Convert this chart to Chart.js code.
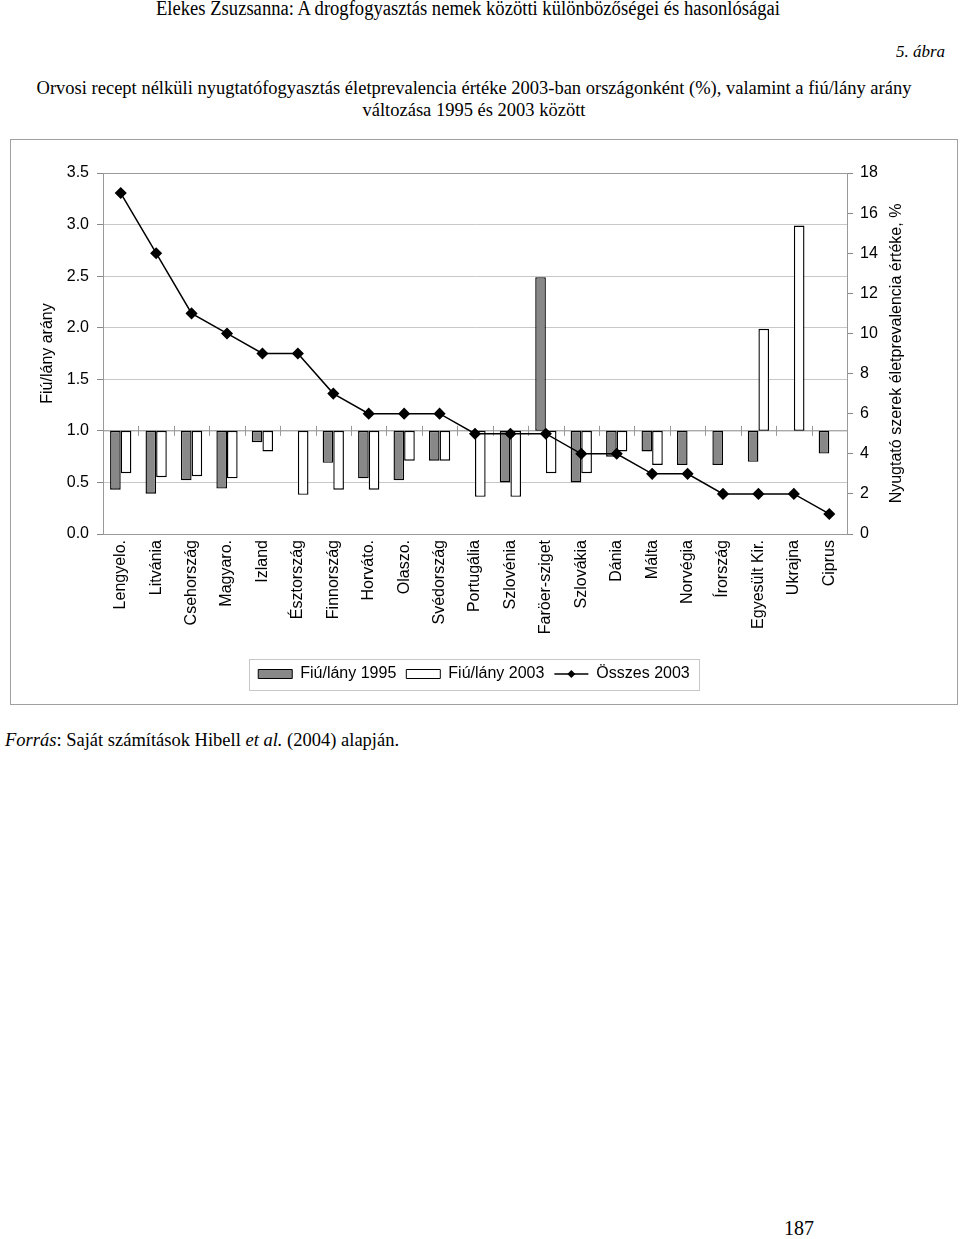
<!DOCTYPE html>
<html>
<head>
<meta charset="utf-8">
<script src="https://cdn.jsdelivr.net/npm/chart.js@4.4.0/dist/chart.umd.min.js"></script>
<style>
  body { margin: 0; background: #fff; width: 960px; height: 1239px; position: relative; overflow: hidden; }
  .serif { font-family: 'Liberation Serif', 'Times New Roman', serif; color: #000; position: absolute; white-space: nowrap; }
  #header { left: 0; width: 936px; top: -3px; font-size: 20px; line-height: 22px; text-align: center; transform: scaleX(0.93); transform-origin: 468px 0; }
  #abra { right: 15px; top: 42px; font-size: 17px; line-height: 20px; font-style: italic; }
  #title { left: 0; width: 948px; top: 77px; font-size: 18.5px; line-height: 22px; text-align: center; }
  #chartBox { position: absolute; left: 10px; top: 139px; width: 948px; height: 566px; border: 1px solid #a0a0a0; box-sizing: border-box; }
  #forras { left: 5px; top: 730px; font-size: 18.5px; line-height: 20px; }
  #page { left: 784px; top: 1217px; font-size: 20px; line-height: 22px; }
</style>
</head>
<body>
<div id="header" class="serif">Elekes Zsuzsanna: A drogfogyasztás nemek közötti különbözőségei és hasonlóságai</div>
<div id="abra" class="serif">5. ábra</div>
<div id="title" class="serif">Orvosi recept nélküli nyugtatófogyasztás életprevalencia értéke 2003-ban országonként (%), valamint a fiú/lány arány<br>változása 1995 és 2003 között</div>
<div id="chartBox"><canvas id="chart" width="946" height="564"></canvas></div>
<div id="forras" class="serif"><i>Forrás</i>: Saját számítások Hibell <i>et al.</i> (2004) alapján.</div>
<div id="page" class="serif">187</div>

<script>
const orszagok = ['Lengyelo.', 'Litvánia', 'Csehország', 'Magyaro.', 'Izland', 'Észtország', 'Finnország', 'Horváto.', 'Olaszo.', 'Svédország', 'Portugália', 'Szlovénia', 'Faröer-sziget', 'Szlovákia', 'Dánia', 'Málta', 'Norvégia', 'Írország', 'Egyesült Kir.', 'Ukrajna', 'Ciprus'];
const arany1995 = [0.43, 0.39, 0.52, 0.44, 0.89, null, 0.69, 0.54, 0.52, 0.71, null, 0.50, 2.49, 0.50, 0.75, 0.80, 0.67, 0.67, 0.70, null, 0.78];
const arany2003 = [0.59, 0.55, 0.56, 0.54, 0.80, 0.38, 0.43, 0.43, 0.71, 0.71, 0.36, 0.36, 0.59, 0.59, 0.80, 0.67, null, null, 1.99, 2.99, null];
const osszes2003 = [17, 14, 11, 10, 9, 9, 7, 6, 6, 6, 5, 5, 5, 4, 4, 3, 3, 2, 2, 2, 1];
const balTengely = [0, 3.5, 0.5];   // min, max, lépés
const jobbTengely = [0, 18, 2];
const ALAP = 1; // a kategória tengely 1.0-nál metszi

Chart.defaults.font.family = "'Liberation Sans', Arial, sans-serif";
Chart.defaults.font.size = 16;
Chart.defaults.color = '#000';

// lebegő oszlopok 1.0-tól
const lebego = arr => arr.map(v => v == null ? null : [ALAP, v]);

// keret, 1.0-s tengely osztásai, jobb tengely címe, jelmagyarázat
const extrak = {
  id: 'extrak',
  beforeDatasetsDraw(chart) {
    const { ctx, chartArea: a, scales } = chart;
    const x = scales.x, y = scales.y;
    const y1 = y.getPixelForValue(ALAP);
    ctx.save();
    ctx.strokeStyle = '#999';
    ctx.lineWidth = 1;
    ctx.beginPath();
    ctx.moveTo(a.left, y1); ctx.lineTo(a.right, y1);
    for (let i = 0; i <= orszagok.length; i++) {
      let px;
      if (i === 0) px = a.left;
      else if (i === orszagok.length) px = a.right;
      else px = (x.getPixelForTick(i - 1) + x.getPixelForTick(i)) / 2;
      ctx.moveTo(Math.round(px) + 0.5, y1 - 5);
      ctx.lineTo(Math.round(px) + 0.5, y1 + 5);
    }
    ctx.stroke();
    ctx.strokeStyle = '#999';
    ctx.strokeRect(a.left + 0.5, a.top + 0.5, a.right - a.left, a.bottom - a.top);
    ctx.restore();
  },
  afterDraw(chart) {
    const { ctx, chartArea: a, scales } = chart;
    ctx.save();
    ctx.fillStyle = '#000';
    ctx.font = "16px 'Liberation Sans', Arial, sans-serif";
    ctx.textAlign = 'center';
    ctx.textBaseline = 'middle';
    ctx.translate(scales.y1.left + 50, (a.top + a.bottom) / 2);
    ctx.rotate(-Math.PI / 2);
    ctx.fillText('Nyugtató szerek életprevalencia értéke, %', 0, 0);
    ctx.restore();

    const lg = chart.legend;
    const boxes = lg.legendHitBoxes;
    if (!boxes || !boxes.length) return;
    const bw = lg.options.labels.boxWidth;
    // vonal + rombusz a harmadik elemhez
    const hb = boxes[2];
    const cy = hb.top + hb.height / 2;
    ctx.save();
    ctx.strokeStyle = '#000';
    ctx.fillStyle = '#000';
    ctx.lineWidth = 1.5;
    ctx.beginPath();
    ctx.moveTo(hb.left, cy); ctx.lineTo(hb.left + bw, cy);
    ctx.stroke();
    const cx = hb.left + bw / 2, r = 4;
    ctx.beginPath();
    ctx.moveTo(cx, cy - r); ctx.lineTo(cx + r, cy); ctx.lineTo(cx, cy + r); ctx.lineTo(cx - r, cy);
    ctx.closePath(); ctx.fill();
    // keret
    let l = Infinity, rr = -Infinity, t = Infinity, b = -Infinity;
    boxes.forEach(h => {
      l = Math.min(l, h.left); rr = Math.max(rr, h.left + h.width);
      t = Math.min(t, h.top); b = Math.max(b, h.top + h.height);
    });
    ctx.strokeStyle = '#c8c8c8';
    ctx.lineWidth = 1;
    ctx.strokeRect(Math.round(l - 9) + 0.5, Math.round(t - 7) + 0.5, Math.round(rr - l + 18), Math.round(b - t + 15));
    ctx.restore();
  }
};

new Chart(document.getElementById('chart').getContext('2d'), {
  type: 'bar',
  data: {
    labels: orszagok,
    datasets: [
      {
        label: 'Fiú/lány 1995',
        data: lebego(arany1995),
        backgroundColor: '#888888',
        borderColor: '#000',
        borderWidth: 1.4,
        borderSkipped: false,
        categoryPercentage: 0.6,
        barPercentage: 1.0,
        yAxisID: 'y',
        order: 1
      },
      {
        label: 'Fiú/lány 2003',
        data: lebego(arany2003),
        backgroundColor: '#ffffff',
        borderColor: '#000',
        borderWidth: 1.4,
        borderSkipped: false,
        categoryPercentage: 0.6,
        barPercentage: 1.0,
        yAxisID: 'y',
        order: 1
      },
      {
        type: 'line',
        label: 'Összes 2003',
        data: osszes2003,
        borderColor: '#000',
        backgroundColor: '#000',
        borderWidth: 1.5,
        pointStyle: 'rectRot',
        pointRadius: 5,
        pointBackgroundColor: '#000',
        tension: 0,
        fill: false,
        yAxisID: 'y1',
        order: 0
      }
    ]
  },
  options: {
    responsive: false,
    animation: false,
    devicePixelRatio: 1,
    layout: { padding: { top: 33, left: 0, right: 20, bottom: 12 } },
    plugins: {
      tooltip: { enabled: false },
      legend: {
        position: 'bottom',
        labels: {
          boxWidth: 34,
          boxHeight: 9,
          padding: 10,
          generateLabels: chart => chart.data.datasets.map((ds, i) => ({
            text: ds.label,
            fillStyle: ds.type === 'line' ? 'rgba(0,0,0,0)' : ds.backgroundColor,
            strokeStyle: ds.type === 'line' ? 'rgba(0,0,0,0)' : '#000',
            lineWidth: 1,
            datasetIndex: i,
            hidden: false
          }))
        }
      }
    },
    scales: {
      x: {
        grid: { display: false, drawTicks: false },
        border: { display: false },
        ticks: { minRotation: 90, maxRotation: 90, autoSkip: false, padding: 6 },
        afterFit: s => { s.height = 122; }
      },
      y: {
        position: 'left',
        min: balTengely[0], max: balTengely[1],
        ticks: { stepSize: balTengely[2], padding: 8, callback: v => v.toFixed(1) },
        grid: { color: '#c8c8c8', tickColor: '#888', tickLength: 6 },
        border: { display: true, color: '#777' },
        title: { display: true, text: 'Fiú/lány arány', padding: { top: 27, bottom: 0 } },
        afterFit: s => { s.width = 92; }
      },
      y1: {
        position: 'right',
        min: jobbTengely[0], max: jobbTengely[1],
        ticks: { stepSize: jobbTengely[2], padding: 7 },
        grid: { drawOnChartArea: false, tickColor: '#888', tickLength: 6 },
        border: { display: true, color: '#888' },
        afterFit: s => { s.width = 90; }
      }
    }
  },
  plugins: [extrak]
});
</script>
</body>
</html>
